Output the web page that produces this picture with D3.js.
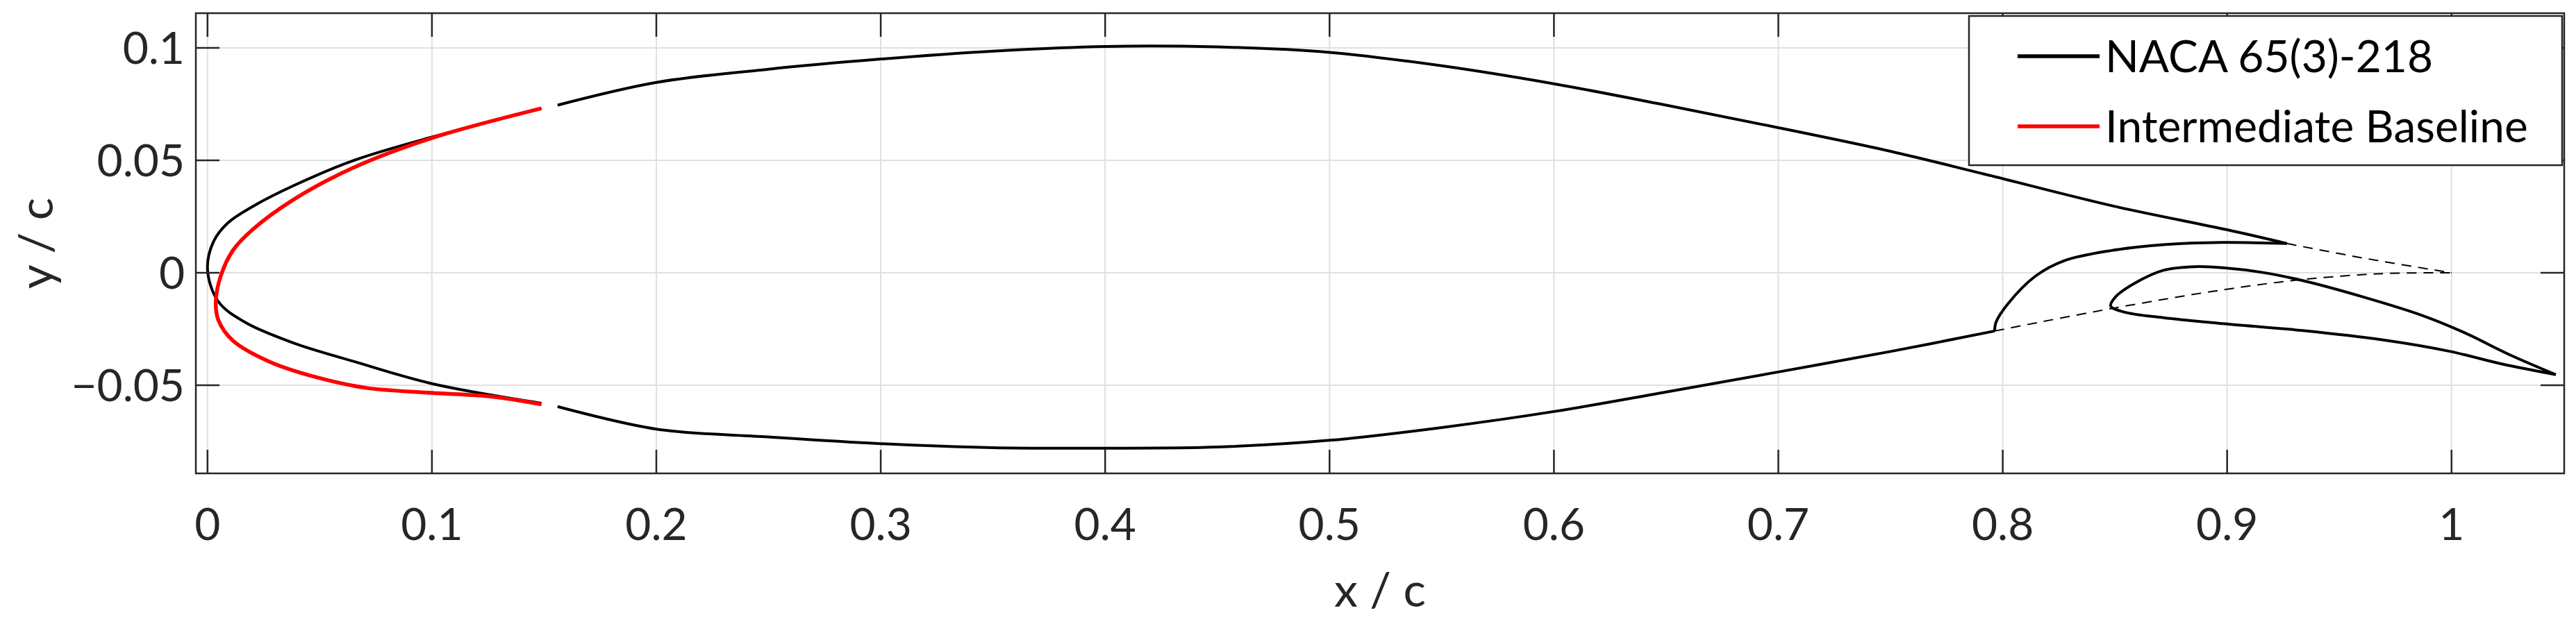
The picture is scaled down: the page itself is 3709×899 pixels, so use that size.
<!DOCTYPE html>
<html>
<head>
<meta charset="utf-8">
<script src="https://cdn.jsdelivr.net/npm/d3@7"></script>
<style>
  body { margin: 0; background: #fff; }
  text { font-family: Lato, "Open Sans", sans-serif; fill: #262626; }
</style>
</head>
<body>
<svg id="chart"></svg>
<script>
// NACA 65(3)-218 leading edge (original, replaced by baseline)
const nacaLE = [
  [0.1488, 0.0731], [0.1, 0.0603], [0.0654, 0.050], [0.0383, 0.0387], [0.020, 0.0294],
  [0.0091, 0.0222], [0.0027, 0.0139], [0.0, 0.0015], [0.0048, -0.0128], [0.0167, -0.022],
  [0.0383, -0.0312], [0.0654, -0.0395], [0.1, -0.0493], [0.1488, -0.058]
];
// main element, upper surface from x=0.156 to cove lip
const mainUpper = [
  [0.156, 0.0745], [0.2, 0.0846], [0.25, 0.0905], [0.3, 0.095], [0.35, 0.0985], [0.4, 0.1006],
  [0.45, 0.1004], [0.5, 0.098], [0.55, 0.092], [0.6, 0.084], [0.65, 0.0745], [0.7, 0.0645],
  [0.75, 0.054], [0.7917, 0.0439], [0.85, 0.0295], [0.9, 0.0191], [0.9266, 0.013]
];
// main element cove (lip back to lower surface)
const mainCove = [
  [0.9266, 0.013], [0.898, 0.0135], [0.8716, 0.0125], [0.8485, 0.0099], [0.8272, 0.0053],
  [0.8147, -0.0014], [0.8023, -0.0138], [0.797, -0.022], [0.7964, -0.0259]
];
// main element, lower surface
const mainLower = [
  [0.7964, -0.0259], [0.75, -0.035], [0.7, -0.0441], [0.65, -0.053], [0.6, -0.0617],
  [0.55, -0.0688], [0.5, -0.0745], [0.45, -0.0775], [0.4, -0.078], [0.35, -0.0778],
  [0.3, -0.076], [0.25, -0.073], [0.2, -0.0695], [0.156, -0.0595]
];
// flap
const flap = [
  [1.0465, -0.0453], [1.026, -0.0365], [1.0048, -0.0262], [0.987, -0.019], [0.9604, -0.0107],
  [0.9337, -0.0035], [0.916, 0.0001], [0.8982, 0.0022], [0.8858, 0.0027], [0.8716, 0.0011],
  [0.8591, -0.0045], [0.8503, -0.0107], [0.8481, -0.0148], [0.8538, -0.0174], [0.8716, -0.020],
  [0.898, -0.0226], [0.9337, -0.0257], [0.969, -0.0298], [0.9995, -0.035], [1.0226, -0.0406],
  [1.0465, -0.0453]
];
// original trailing edge (dashed)
const origUpperTE = [[0.9266, 0.013], [0.962, 0.0063], [1.0, 0.0]];
const origLowerTE = [[0.7964, -0.0259], [0.8485, -0.0159], [0.898, -0.0076], [0.9337, -0.003], [0.969, -0.0004], [1.0, 0.0]];
// intermediate baseline leading edge
const baselineLE = [
  [0.1488, 0.0731], [0.1, 0.0599], [0.0654, 0.0469], [0.0383, 0.0325], [0.020, 0.0191],
  [0.0113, 0.0099], [0.0059, -0.0014], [0.0037, -0.0128], [0.0048, -0.021], [0.0113, -0.0302],
  [0.0275, -0.0395], [0.049, -0.0466], [0.0708, -0.0512], [0.1, -0.0534], [0.125, -0.0549],
  [0.1488, -0.0585]
];

const xTicks = [0, 0.1, 0.2, 0.3, 0.4, 0.5, 0.6, 0.7, 0.8, 0.9, 1];
const yTicks = [-0.05, 0, 0.05, 0.1];
const legendItems = [
  {label: 'NACA 65(3)-218', color: '#000'},
  {label: 'Intermediate Baseline', color: '#ff0000'}
];

const W = 3709, H = 899;
const margin = {top: 19, right: 17, bottom: 217, left: 282};
const width = W - margin.left - margin.right;
const height = H - margin.top - margin.bottom;

const svg = d3.select('#chart').attr('width', W).attr('height', H);
const chart = svg.append('g').attr('transform', `translate(${margin.left},${margin.top})`);

const x = d3.scaleLinear().domain([-0.0052, 1.0502]).range([0, width]);
const y = d3.scaleLinear().domain([-0.0892, 0.1154]).range([height, 0]);

// grid
chart.selectAll('.gx').data(xTicks).join('line')
  .attr('x1', d => x(d)).attr('x2', d => x(d)).attr('y1', 0).attr('y2', height)
  .attr('stroke', '#e0e0e0').attr('stroke-width', 2);
chart.selectAll('.gy').data(yTicks).join('line')
  .attr('y1', d => y(d)).attr('y2', d => y(d)).attr('x1', 0).attr('x2', width)
  .attr('stroke', '#e0e0e0').attr('stroke-width', 2);

const line = d3.line().x(d => x(d[0])).y(d => y(d[1])).curve(d3.curveCatmullRom);

function draw(pts, color, w, dash) {
  chart.append('path').datum(pts).attr('d', line)
    .attr('fill', 'none').attr('stroke', color).attr('stroke-width', w)
    .attr('stroke-dasharray', dash || null)
    .attr('stroke-linejoin', 'round');
}
draw(origUpperTE, '#000', 2, '14,10');
draw(origLowerTE, '#000', 2, '14,10');
draw(nacaLE, '#000', 4);
draw(mainUpper, '#000', 4);
draw(mainCove, '#000', 4);
draw(mainLower, '#000', 4);
draw(flap, '#000', 4);
draw(baselineLE, '#ff0000', 5.5);

// axes box with inward ticks on all sides
const tl = 34;
chart.append('rect').attr('width', width).attr('height', height)
  .attr('fill', 'none').attr('stroke', '#262626').attr('stroke-width', 2.5);
xTicks.forEach(t => {
  chart.append('line').attr('x1', x(t)).attr('x2', x(t)).attr('y1', height).attr('y2', height - tl)
    .attr('stroke', '#262626').attr('stroke-width', 2.5);
  chart.append('line').attr('x1', x(t)).attr('x2', x(t)).attr('y1', 0).attr('y2', tl)
    .attr('stroke', '#262626').attr('stroke-width', 2.5);
  chart.append('text').attr('x', x(t)).attr('y', height + 96)
    .attr('text-anchor', 'middle').style('font-size', '64px').text(d3.format('~g')(t));
});
yTicks.forEach(t => {
  chart.append('line').attr('y1', y(t)).attr('y2', y(t)).attr('x1', 0).attr('x2', tl)
    .attr('stroke', '#262626').attr('stroke-width', 2.5);
  chart.append('line').attr('y1', y(t)).attr('y2', y(t)).attr('x1', width).attr('x2', width - tl)
    .attr('stroke', '#262626').attr('stroke-width', 2.5);
  chart.append('text').attr('x', -16).attr('y', y(t) + 23)
    .attr('text-anchor', 'end').style('font-size', '64px').text(d3.format('~g')(t));
});

// axis labels
chart.append('text').attr('x', width / 2).attr('y', height + 192)
  .attr('text-anchor', 'middle').style('font-size', '68px').text('x / c');
chart.append('text').attr('transform', `translate(${-206},${height / 2}) rotate(-90)`)
  .attr('text-anchor', 'middle').style('font-size', '68px').text('y / c');

// legend
const lg = chart.append('g').attr('transform', `translate(${2835 - margin.left},${23 - margin.top})`);
lg.append('rect').attr('width', 3689 - 2835).attr('height', 215)
  .attr('fill', '#fff').attr('stroke', '#262626').attr('stroke-width', 2.5);
legendItems.forEach((d, i) => {
  const cy = 58 + i * 101;
  lg.append('line').attr('x1', 70).attr('x2', 188).attr('y1', cy).attr('y2', cy)
    .attr('stroke', d.color).attr('stroke-width', 5.5);
  lg.append('text').attr('x', 196).attr('y', cy + 23).style('font-size', '64px')
    .style('fill', '#000').text(d.label);
});
</script>
</body>
</html>
